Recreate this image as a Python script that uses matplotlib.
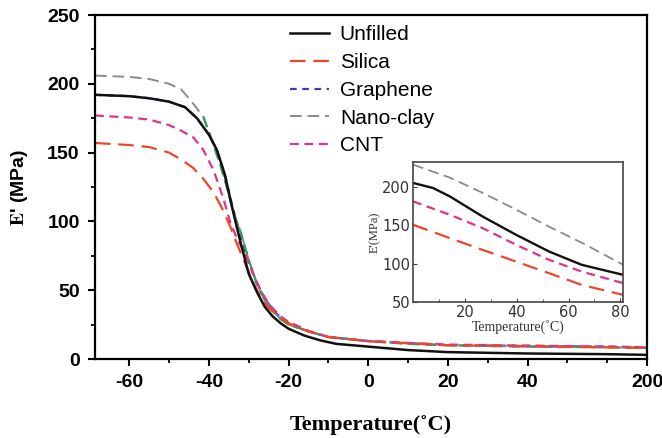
import numpy as np
import matplotlib
matplotlib.use('Agg')
import matplotlib.pyplot as plt

plt.rcParams['mathtext.fontset'] = 'stix'

# main panel (storage modulus vs temperature)
T_unf = [-68.6, -60, -55, -50, -46, -43, -40, -38, -36, -34, -32, -30, -28, -26, -24, -22, -20, -16, -12, -8, 0, 10, 20, 40, 60, 200]
E_unf = [192, 191, 189.5, 187, 183, 175, 163, 152, 134, 108, 84, 62, 49, 38, 31, 26, 22, 17, 13.5, 11, 9, 6.5, 5, 4, 3.5, 3]

T_sil = [-68.6, -60, -55, -50, -47, -44, -41.4, -38.8, -36.6, -34.6, -33, -31, -29, -27, -25, -22, -20, -15, -10, 0, 20, 60, 200]
E_sil = [157, 155.5, 154, 150, 145, 139, 131, 121, 109, 96, 84, 70, 56, 45, 37, 30, 26, 20, 16, 13, 10, 8.5, 8]

T_gra = [-68.6, -60, -55, -50, -46, -43, -40, -38, -36, -34, -32, -30, -28, -26, -24, -22, -20, -15, -10, 0, 20, 60, 200]
E_gra = [192, 191, 189.5, 187, 183, 175, 163, 152, 134, 110, 88, 70, 55, 44, 36, 30, 26, 20, 16, 13, 10, 9, 8.5]

T_nan = [-68.6, -60, -55, -50, -47, -44.6, -41.4, -39, -37, -35.3, -33.8, -32, -30, -28, -26, -24, -22, -20, -15, -10, 0, 10, 20, 40, 60, 200]
E_nan = [206, 205, 203.5, 200, 196, 188, 176, 157, 140, 123, 106, 92, 72, 55, 43, 35, 29, 25, 20, 16, 13, 11, 10, 9, 8.5, 8]

T_cnt = [-68.6, -60, -55, -50, -47, -43.9, -41.4, -38.8, -36.3, -34.6, -33, -31, -29, -27, -25, -22, -20, -15, -10, 0, 20, 60, 200]
E_cnt = [177, 175.5, 174, 170, 166, 161, 152, 137, 116, 99, 88, 77, 63, 50, 40, 31, 27, 20.5, 16, 13, 10.5, 9, 8.5]

# green dashed trace seen in the transition / tail (not in legend)
T_grn = [-41.4, -39, -37, -35.3, -33.8, -32, -30, -28, -26, -24, -22, -20, -15, -10, 0, 10, 20, 40, 60, 200]
E_grn = [176, 157, 140, 123, 106, 92, 72, 55, 43, 35, 29, 25, 20, 16, 13, 11, 10, 9, 8.5, 8]

# inset (0-80 C)
Ti_unf = [0, 7.7, 14.2, 26.8, 39.8, 52.5, 65.1, 81.2]
Ei_unf = [204.8, 198.2, 187.3, 161.2, 137.3, 115.6, 98.3, 85.2]
Ti = [0, 14.2, 26.8, 39.8, 52.5, 65.1, 81.2]
Ei_nan = [228.6, 211.7, 192, 170, 147.9, 127, 98.2]
Ei_cnt = [180.8, 163.4, 146.1, 124.3, 104.8, 89.5, 74.4]
Ei_sil = [150.4, 133, 117.8, 102.5, 87.4, 72.2, 59.1]

x_major = [-60, -40, -20, 0, 20, 40, 200]
x_minor = [-50, -30, -10, 10, 30, 50, 60]

c_unf, c_sil, c_gra, c_nan, c_cnt, c_grn = '#111111', '#f0452a', '#3b3faa', '#8a8a8a', '#e0338a', '#3a9a5c'


def fwd(t):
    t = np.asarray(t, dtype=float)
    return np.where(t <= 60, t, 60 + (t - 60) / 14.0)


def inv(u):
    u = np.asarray(u, dtype=float)
    return np.where(u <= 60, u, 60 + (u - 60) * 14.0)


fig = plt.figure(figsize=(6.62, 4.38), dpi=100)
ax = fig.add_axes([95/662, 1-359/438, 552/662, 344/438])
ax.set_xscale('function', functions=(fwd, inv))

ax.plot(T_gra, E_gra, color=c_gra, lw=1.6, dashes=(3, 2.5), label='Graphene')
ax.plot(T_nan, E_nan, color=c_nan, lw=1.4, dashes=(6, 3), label='Nano-clay')
ax.plot(T_grn, E_grn, color=c_grn, lw=1.6, dashes=(5, 2.5), label='_nolegend_')
ax.plot(T_cnt, E_cnt, color=c_cnt, lw=1.6, dashes=(4, 2.5), label='CNT')
ax.plot(T_sil, E_sil, color=c_sil, lw=1.6, dashes=(7, 3.5), label='Silica')
ax.plot(T_unf, E_unf, color=c_unf, lw=1.8, label='Unfilled')

ax.set_xlim(-68.6, 200)
ax.set_ylim(0, 250)
ax.set_xticks(x_major)
ax.set_xticks(x_minor, minor=True)
ax.set_yticks([0, 50, 100, 150, 200, 250])
ax.set_yticks([25, 75, 125, 175, 225], minor=True)
ax.set_xticklabels([str(v) for v in x_major])
for lab in ax.get_xticklabels() + ax.get_yticklabels():
    lab.set_fontfamily('Liberation Sans')
    lab.set_fontweight('bold')
    lab.set_fontsize(14)
ax.tick_params(which='major', length=5, width=1.5, direction='out', pad=6)
ax.tick_params(which='minor', length=3, width=1.3, direction='out')
for s in ax.spines.values():
    s.set_linewidth(1.6)

ax.set_xlabel('Temperature(˚C)', fontfamily='Liberation Serif', fontweight='bold', fontsize=16, labelpad=17)
ax.set_ylabel(r"$\mathbf{E}$' (MPa)", fontfamily='Liberation Sans', fontweight='bold', fontsize=14)
ax.yaxis.set_label_coords(-0.118, 0.5)

h, l = ax.get_legend_handles_labels()
order = [l.index(n) for n in ['Unfilled', 'Silica', 'Graphene', 'Nano-clay', 'CNT']]
ax.legend([h[i] for i in order], [l[i] for i in order], loc='upper left',
          bbox_to_anchor=(0.353, 0.97), frameon=False, borderaxespad=0, borderpad=0,
          prop={'family': 'Liberation Sans', 'size': 15}, handlelength=1.9,
          handletextpad=0.5, labelspacing=0.42)

# inset
ins = fig.add_axes([413/662, 1-302/438, 210/662, 140/438])
ins.plot(Ti, Ei_nan, color=c_nan, lw=1.3, dashes=(6, 3))
ins.plot(Ti, Ei_cnt, color=c_cnt, lw=1.6, dashes=(4, 2.5))
ins.plot(Ti, Ei_sil, color=c_sil, lw=1.6, dashes=(7, 3.5))
ins.plot(Ti_unf, Ei_unf, color=c_unf, lw=1.7)
ins.set_xlim(0, 81)
ins.set_ylim(50, 232)
ins.set_xticks([20, 40, 60, 80])
ins.set_xticks([10, 30, 50, 70], minor=True)
ins.set_yticks([50, 100, 150, 200])
ins.tick_params(which='both', direction='in', labelsize=10.5, labelcolor='#333333', pad=2, length=3, color='#444444')
ins.tick_params(which='minor', length=2)
for s in ins.spines.values():
    s.set_linewidth(1.2)
    s.set_color('#444444')
ins.set_xlabel('Temperature(˚C)', fontfamily='Liberation Serif', fontsize=10, labelpad=0, color='#333333')
ins.set_ylabel("E'(MPa)", fontfamily='Liberation Serif', fontsize=9, labelpad=1, color='#333333')

fig.savefig('out.png', dpi=100)
